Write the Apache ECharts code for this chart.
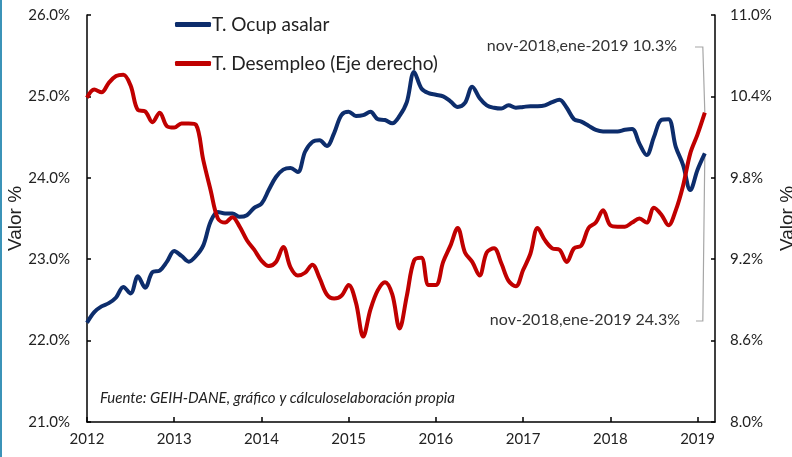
<!DOCTYPE html>
<html>
<head>
<meta charset="utf-8">
<script src="https://cdn.jsdelivr.net/npm/echarts@6/dist/echarts.min.js"></script>
<style>
  html, body { margin: 0; padding: 0; background: #fff; }
  #container { width: 792px; height: 457px; }
</style>
</head>
<body>
<div id="container"></div>
<script>
// years on the x axis (one tick every 12 months, starting jan-2012)
var years = ['2012', '2013', '2014', '2015', '2016', '2017', '2018', '2019'];

// T. Ocup asalar (left axis, %), monthly from 2012
var ocupAsalar = [
  22.22, 22.35, 22.42, 22.46, 22.53, 22.66, 22.58, 22.79, 22.65, 22.84, 22.86, 22.97,
  23.10, 23.04, 22.97, 23.04, 23.17, 23.46, 23.58, 23.56, 23.56, 23.52, 23.54, 23.63,
  23.68, 23.85, 24.01, 24.10, 24.12, 24.07, 24.32, 24.44, 24.46, 24.39, 24.55, 24.77,
  24.81, 24.76, 24.77, 24.81, 24.72, 24.71, 24.67, 24.76, 24.93, 25.30, 25.10, 25.04,
  25.02, 25.00, 24.94, 24.87, 24.92, 25.12, 24.98, 24.89, 24.86, 24.85, 24.89, 24.86,
  24.87, 24.88, 24.88, 24.89, 24.93, 24.96, 24.86, 24.72, 24.69, 24.64, 24.59, 24.57,
  24.57, 24.57, 24.59, 24.60, 24.42, 24.28, 24.50, 24.71, 24.72, 24.38, 24.16, 23.85,
  24.10, 24.30
];

// T. Desempleo (right axis, %), monthly from 2012
var desempleo = [
  10.39, 10.45, 10.43, 10.50, 10.55, 10.56, 10.48, 10.30, 10.29, 10.21, 10.28, 10.18,
  10.17, 10.20, 10.20, 10.19, 9.93, 9.71, 9.50, 9.47, 9.51, 9.44, 9.34, 9.27,
  9.19, 9.15, 9.18, 9.29, 9.14, 9.08, 9.10, 9.16, 9.06, 8.94, 8.91, 8.93,
  9.01, 8.88, 8.63, 8.83, 8.97, 9.03, 8.94, 8.69, 8.93, 9.19, 9.21, 9.01,
  9.01, 9.18, 9.30, 9.43, 9.25, 9.18, 9.08, 9.25, 9.28, 9.17, 9.04, 9.00,
  9.12, 9.24, 9.43, 9.34, 9.28, 9.27, 9.18, 9.28, 9.30, 9.43, 9.47, 9.56,
  9.45, 9.44, 9.44, 9.47, 9.50, 9.47, 9.58, 9.53, 9.45, 9.56, 9.74, 9.98,
  10.12, 10.28
];

var lastLabel = 'nov-2018,ene-2019';
var fuente = 'Fuente: GEIH-DANE, gráfico y cálculoselaboración propia';

var narrow = 'Lato, "Open Sans", sans-serif';

function toPairs(arr) {
    return arr.map(function (v, i) { return [i, v]; });
}

var dom = document.getElementById('container');
var myChart = echarts.init(dom);

var option = {
    backgroundColor: '#FFFFFF',
    animation: false,
    grid: { left: 87, right: 77, top: 15, bottom: 35, containLabel: false, outerBoundsMode: 'none' },
    legend: {
        orient: 'vertical',
        left: 170,
        top: 10,
        itemWidth: 36,
        itemHeight: 5,
        itemGap: 20,
        icon: 'roundRect',
        textStyle: { fontFamily: narrow, fontSize: 19, color: '#222', lineHeight: 19, padding: [0, 0, 0, -4] },
        data: ['T. Ocup asalar', 'T. Desempleo (Eje derecho)']
    },
    xAxis: {
        type: 'value',
        min: 0,
        max: 86.4,
        interval: 12,
        splitLine: { show: false },
        axisLine: { lineStyle: { color: '#000', width: 1.5 } },
        axisTick: { show: true, inside: true, length: 5, lineStyle: { color: '#000', width: 1.5 } },
        axisLabel: {
            showMaxLabel: false,
            margin: 10,
            fontFamily: narrow, fontSize: 15, color: '#222',
            formatter: function (v) { return years[Math.round(v / 12)] || ''; }
        }
    },
    yAxis: [
        {
            type: 'value',
            min: 21, max: 26, interval: 1,
            name: 'Valor %',
            nameLocation: 'middle',
            nameGap: 62,
            nameMoveOverlap: false,
            nameTextStyle: { fontFamily: 'Liberation Sans', fontSize: 19, color: '#222' },
            splitLine: { show: false },
            axisLine: { show: true, lineStyle: { color: '#000', width: 1.5 } },
            axisTick: { show: true, inside: true, length: 4, lineStyle: { color: '#000', width: 1.5 } },
            axisLabel: {
                margin: 17,
                fontFamily: narrow, fontSize: 15, color: '#222',
                formatter: function (v) { return v.toFixed(1) + '%'; }
            }
        },
        {
            type: 'value',
            min: 8, max: 11, interval: 0.6,
            name: 'Valor %',
            nameLocation: 'middle',
            nameGap: 63,
            nameMoveOverlap: false,
            nameTextStyle: { fontFamily: 'Liberation Sans', fontSize: 19, color: '#222' },
            splitLine: { show: false },
            axisLine: { show: true, lineStyle: { color: '#000', width: 1.5 } },
            axisTick: { show: true, inside: true, length: 4, lineStyle: { color: '#000', width: 1.5 } },
            axisLabel: {
                margin: 15,
                fontFamily: narrow, fontSize: 15, color: '#222',
                formatter: function (v) { return v.toFixed(1) + '%'; }
            }
        }
    ],
    series: [
        {
            name: 'T. Ocup asalar',
            type: 'line',
            yAxisIndex: 0,
            smooth: 0.35,
            symbol: 'none',
            lineStyle: { color: '#0d2d6c', width: 4 },
            itemStyle: { color: '#0d2d6c' },
            data: toPairs(ocupAsalar)
        },
        {
            name: 'T. Desempleo (Eje derecho)',
            type: 'line',
            yAxisIndex: 1,
            smooth: 0.35,
            symbol: 'none',
            lineStyle: { color: '#c00000', width: 4 },
            itemStyle: { color: '#c00000' },
            data: toPairs(desempleo)
        }
    ]
};

myChart.setOption(option);

// annotations with leader lines to the last point of each series
var nLast = ocupAsalar.length - 1;
var pRed = myChart.convertToPixel({ seriesIndex: 1 }, [nLast, desempleo[nLast]]);
var pBlue = myChart.convertToPixel({ seriesIndex: 0 }, [nLast, ocupAsalar[nLast]]);
var lineGray = { stroke: '#a6a6a6', lineWidth: 1.2 };

myChart.setOption({
    graphic: [
        { type: 'rect', left: 0, top: 0, shape: { width: 2, height: 457 }, style: { fill: '#3b93b8' } },
        {
            type: 'text', right: 115, top: 38,
            style: { text: lastLabel + ' ' + desempleo[nLast].toFixed(1) + '%', font: '16px ' + narrow, fill: '#333' }
        },
        {
            type: 'text', right: 112, top: 312,
            style: { text: lastLabel + ' ' + ocupAsalar[nLast].toFixed(1) + '%', font: '16px ' + narrow, fill: '#333' }
        },
        {
            type: 'polyline',
            shape: { points: [[695, 47], [pRed[0] - 2, 47], [pRed[0], pRed[1]]] },
            style: lineGray
        },
        {
            type: 'polyline',
            shape: { points: [[696, 321], [pBlue[0] - 2, 321], [pBlue[0], pBlue[1]]] },
            style: lineGray
        },
        {
            type: 'text', left: 100, top: 391,
            style: { text: fuente, font: 'italic 15px ' + narrow, fill: '#222' }
        }
    ]
});

window.onresize = function () {
    myChart.resize();
};
</script>
</body>
</html>
